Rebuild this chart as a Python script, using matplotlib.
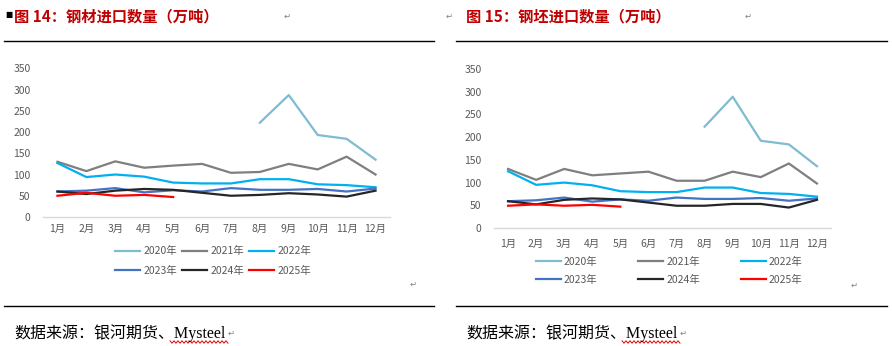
import matplotlib
matplotlib.use("Agg")
import matplotlib.pyplot as plt
from matplotlib.lines import Line2D

plt.rcParams['font.family'] = ['Noto Sans CJK SC', 'DejaVu Sans']

W, H = 892, 346

months = ['1月', '2月', '3月', '4月', '5月', '6月', '7月', '8月', '9月', '10月', '11月', '12月']
years = ['2020年', '2021年', '2022年', '2023年', '2024年', '2025年']
colors = ['#7FBBD1', '#7F7F7F', '#00B0F0', '#4472C4', '#262626', '#FF0000']

# 钢材进口数量（万吨），None 表示无数据
steel_2020 = [None, None, None, None, None, None, None, 222, 287, 193, 184, 135]
steel_2021 = [130, 108, 131, 116, 121, 125, 104, 106, 125, 112, 142, 100]
steel_2022 = [127, 94, 100, 95, 81, 79, 79, 89, 89, 77, 75, 70]
steel_2023 = [60, 62, 68, 58, 63, 60, 68, 64, 64, 66, 60, 67]
steel_2024 = [60, 54, 62, 66, 64, 57, 50, 52, 56, 53, 48, 62]
steel_2025 = [50, 57, 50, 52, 47]

# 钢坯进口数量（万吨）
billet_2020 = [None, None, None, None, None, None, None, 223, 289, 192, 184, 136]
billet_2021 = [130, 106, 130, 116, 120, 124, 104, 104, 124, 112, 142, 98]
billet_2022 = [125, 95, 100, 94, 81, 79, 79, 89, 89, 77, 75, 69]
billet_2023 = [59, 61, 67, 58, 63, 60, 67, 64, 64, 66, 60, 65]
billet_2024 = [59, 52, 62, 65, 63, 56, 49, 49, 53, 53, 45, 62]
billet_2025 = [49, 52, 49, 51, 47]


def px_axes(fig, x0, x1, ytop, ybot):
    return fig.add_axes([x0 / W, 1 - ybot / H, (x1 - x0) / W, (ybot - ytop) / H])


def hrule(fig, x0, x1, y):
    fig.add_artist(Line2D([x0 / W, x1 / W], [1 - y / H, 1 - y / H],
                          color='black', lw=1.0, transform=fig.transFigure))


def draw_chart(ax, series, xpad, ypad):
    for vals, c, lab in zip(series, colors, years):
        xs = [i for i, v in enumerate(vals) if v is not None]
        ys = [v for v in vals if v is not None]
        ax.plot(xs, ys, color=c, lw=1.6, label=lab, solid_joinstyle='round')
    ax.set_xlim(-0.5, 11.5)
    ax.set_ylim(0, 350)
    ax.set_yticks(range(0, 351, 50))
    ax.set_xticks(range(12))
    ax.set_xticklabels(months)
    for s in ['top', 'right', 'left']:
        ax.spines[s].set_visible(False)
    ax.spines['bottom'].set_color('#D9D9D9')
    ax.spines['bottom'].set_linewidth(1.0)
    ax.tick_params(axis='both', length=0, labelsize=7.5, labelcolor='#595959')
    ax.tick_params(axis='y', pad=ypad)
    ax.tick_params(axis='x', pad=xpad)


def add_legend(ax, cx, cy, colspace, rowspace):
    h, l = ax.get_legend_handles_labels()
    # legend fills column by column, reorder so years run across rows
    order = [0, 3, 1, 4, 2, 5]
    leg = ax.legend([h[i] for i in order], [l[i] for i in order], ncol=3, loc='center',
                    bbox_to_anchor=(cx / W, 1 - cy / H), bbox_transform=fig.transFigure,
                    frameon=False, fontsize=7.5, handlelength=2.4, handletextpad=0.3,
                    columnspacing=colspace, labelspacing=rowspace, borderpad=0)
    for t in leg.get_texts():
        t.set_color('#595959')


def wavy(fig, x0, x1, y):
    xs, ys = [], []
    x, k = x0, 0
    while x <= x1:
        xs.append(x / W)
        ys.append(1 - (y + (1.2 if k % 2 else -1.2)) / H)
        x += 2
        k += 1
    fig.add_artist(Line2D(xs, ys, color='#E00000', lw=0.7, transform=fig.transFigure))


fig = plt.figure(figsize=(W / 100, H / 100), dpi=100)

steel = [steel_2020, steel_2021, steel_2022, steel_2023, steel_2024, steel_2025]
billet = [billet_2020, billet_2021, billet_2022, billet_2023, billet_2024, billet_2025]

ax1 = px_axes(fig, 43, 390, 68.3, 217)
draw_chart(ax1, steel, 5, 9)
ax2 = px_axes(fig, 494, 831, 69, 228)
draw_chart(ax2, billet, 8, 9)

add_legend(ax1, 213, 261, 0.5, 0.9)
add_legend(ax2, 669, 271, 3.9, 0.75)

# 标题
fig.text(5 / W, 1 - 14 / H, '■', fontsize=5.5, color='black', va='center', family='DejaVu Sans')
fig.text(14 / W, 1 - 16 / H, '图 14：钢材进口数量（万吨）', fontsize=11, fontweight='bold',
         color='#C00000', va='center')
fig.text(466 / W, 1 - 16 / H, '图 15：钢坯进口数量（万吨）', fontsize=11, fontweight='bold',
         color='#C00000', va='center')

# 分隔线
for y in (41, 306):
    hrule(fig, 4, 434, y)
    hrule(fig, 456, 887, y)

# 数据来源
for x in (14, 466):
    t = fig.text(x / W, 1 - 333 / H, '数据来源：银河期货、Mysteel', fontsize=11.5,
                 family=['Liberation Serif', 'Noto Sans CJK SC'], color='black', va='center')
wavy(fig, 170, 228, 342)
wavy(fig, 622, 680, 342)

# 段落标记
marks = [(287, 16), (449, 16), (748, 16), (413, 284), (854, 285), (231, 333), (683, 333)]
for x, y in marks:
    fig.text(x / W, 1 - y / H, '↵', fontsize=6, color='#808080', va='center', ha='center',
             family='DejaVu Sans')

fig.savefig('out.png', dpi=100)
